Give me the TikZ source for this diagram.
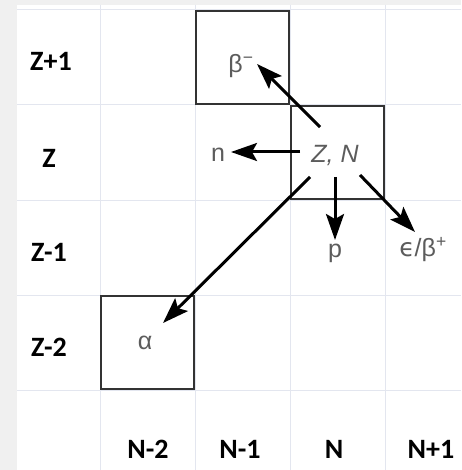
\documentclass[tikz,border=0pt]{standalone}
\usepackage{fontspec}
\setmainfont{Liberation Sans}
\newfontfamily\lblfont{Carlito}
\newfontfamily\dvfont{DejaVu Sans}
\usetikzlibrary{arrows.meta}
\definecolor{bggray}{HTML}{F0F0F0}
\definecolor{gridc}{HTML}{E3E6EF}
\definecolor{txtgray}{HTML}{5C5C5C}
\definecolor{boxc}{HTML}{333333}
\newcommand{\axfont}{\lblfont\bfseries\fontsize{28pt}{28pt}\selectfont}
\newcommand{\infont}{\fontsize{25pt}{25pt}\selectfont}
\tikzset{
  axislbl/.style={font=\axfont, text=black, inner sep=0pt},
  inlbl/.style={font=\infont, text=txtgray, inner sep=0pt},
  cellbox/.style={draw=boxc, line width=1.4pt, minimum width=93pt, minimum height=93pt, inner sep=0pt},
  decay/.style={line width=3pt, -{Stealth[length=26pt,width=18pt,inset=5pt]}},
  gridline/.style={draw=gridc, line width=1pt}
}
\begin{document}
\begin{tikzpicture}[x=1pt,y=-1pt]
\useasboundingbox (0,0) rectangle (461,470);
\fill[bggray] (0,0) rectangle (461,470);
\fill[white] (17,5) rectangle (461,470);
% grid
\foreach \x in {100,195,290,385} \draw[gridline] (\x,5) -- (\x,470);
\foreach \y in {10,105,200,295,390} \draw[gridline] (17,\y) -- (461,\y);
% boxes
\node[cellbox] (bbox) at (242.5,57.5) {};
\node[cellbox] (znbox) at (337.5,152.5) {};
\node[cellbox] (abox) at (147.5,342.5) {};
% row labels
\node[axislbl] (r1) at (51,61) {Z+1};
\node[axislbl] (r2) at (49,158) {Z};
\node[axislbl] (r3) at (49,252) {Z-1};
\node[axislbl] (r4) at (49,347) {Z-2};
% column labels
\node[axislbl] (c1) at (148,449) {N-2};
\node[axislbl] (c2) at (240,449) {N-1};
\node[axislbl] (c3) at (334,449) {N};
\node[axislbl] (c4) at (431,449) {N+1};
% inner labels
\node[inlbl] (zn) at (335,155) {\itshape Z, N};
\node[inlbl] (beta) at (241,66) {β\textsuperscript{−}};
\node[inlbl] (nlab) at (218,155) {n};
\node[inlbl] (plab) at (335,253) {p};
\node[inlbl] (eps) at (423,250) {\dvfont ϵ\rmfamily/β\textsuperscript{+}};
\node[inlbl] (alab) at (145,343) {α};
% arrow coordinates
\coordinate (bs) at (320,127);
\coordinate (be) at (257,64);
\coordinate (ns) at (300,152);
\coordinate (ne) at (231,152);
\coordinate (as) at (310,177);
\coordinate (ae) at (163,323);
\coordinate (ps) at (335,177);
\coordinate (pe) at (335,240);
\coordinate (es) at (360,175);
\coordinate (ee) at (415,232);
\draw[decay] (bs) -- (be);
\draw[decay] (ns) -- (ne);
\draw[decay] (as) -- (ae);
\draw[decay] (ps) -- (pe);
\draw[decay] (es) -- (ee);
\end{tikzpicture}
\end{document}
